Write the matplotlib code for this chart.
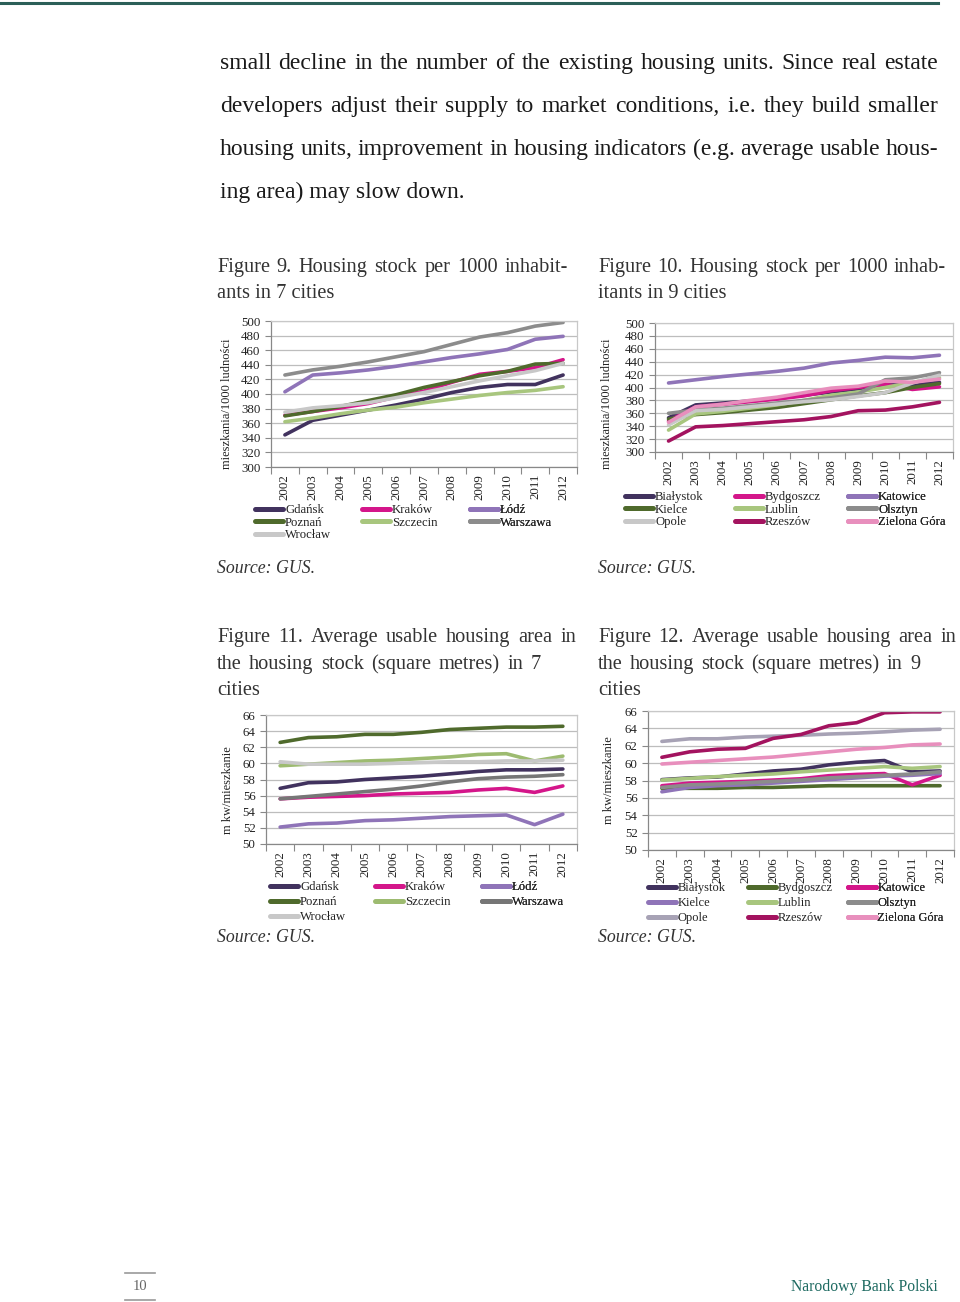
import matplotlib
matplotlib.use('Agg')
import matplotlib.pyplot as plt
from matplotlib.lines import Line2D
import numpy as np

W, H = 960, 1302
fig = plt.figure(figsize=(W / 100, H / 100), dpi=100)
fig.patch.set_facecolor('white')
SERIF = ['Liberation Serif', 'DejaVu Serif']
plt.rcParams['font.family'] = SERIF

years = [str(y) for y in range(2002, 2013)]

# ---------------- Figure 9: housing stock per 1000 inhabitants, 7 cities
cities_9 = ['Gdańsk', 'Kraków', 'Łódź', 'Poznań', 'Szczecin', 'Warszawa', 'Wrocław']
gdansk_9 = [344, 364, 371, 378, 385, 393, 402, 409, 413, 413, 426]
krakow_9 = [371, 376, 381, 387, 396, 404, 416, 427, 431, 436, 447]
lodz_9 = [403, 426, 429, 433, 438, 444, 450, 455, 461, 475, 479]
poznan_9 = [370, 376, 383, 391, 399, 409, 417, 425, 431, 441, 442]
szczecin_9 = [362, 367, 373, 378, 382, 388, 393, 398, 402, 405, 410]
warszawa_9 = [426, 433, 438, 444, 451, 458, 468, 478, 484, 493, 498]
wroclaw_9 = [375, 381, 384, 388, 395, 402, 410, 418, 425, 432, 442]

# ---------------- Figure 10: housing stock per 1000 inhabitants, 9 cities
cities_10 = ['Białystok', 'Bydgoszcz', 'Katowice', 'Kielce', 'Lublin', 'Olsztyn',
             'Opole', 'Rzeszów', 'Zielona Góra']
bialystok_10 = [353, 373, 376, 379, 383, 388, 393, 398, 405, 404, 408]
bydgoszcz_10 = [348, 370, 374, 378, 382, 387, 395, 400, 405, 397, 401]
katowice_10 = [407, 412, 417, 421, 425, 430, 438, 442, 447, 446, 450]
kielce_10 = [351, 358, 361, 365, 369, 375, 381, 387, 392, 400, 406]
lublin_10 = [334, 359, 363, 368, 373, 380, 388, 393, 400, 408, 415]
olsztyn_10 = [360, 365, 368, 372, 376, 380, 384, 390, 412, 415, 423]
opole_10 = [342, 364, 366, 370, 374, 378, 381, 386, 392, 407, 419]
rzeszow_10 = [317, 339, 341, 344, 347, 350, 355, 364, 365, 370, 377]
zielona_10 = [346, 370, 374, 380, 385, 392, 399, 402, 410, 408, 413]

# ---------------- Figure 11: average usable area (m2), 7 cities
gdansk_11 = [56.9, 57.6, 57.7, 58.0, 58.2, 58.4, 58.7, 59.0, 59.2, 59.2, 59.3]
krakow_11 = [55.6, 55.8, 55.9, 56.0, 56.2, 56.3, 56.4, 56.7, 56.9, 56.4, 57.2]
lodz_11 = [52.1, 52.5, 52.6, 52.9, 53.0, 53.2, 53.4, 53.5, 53.6, 52.4, 53.7]
poznan_11 = [62.6, 63.2, 63.3, 63.6, 63.6, 63.85, 64.2, 64.35, 64.5, 64.5, 64.6]
szczecin_11 = [59.7, 59.9, 60.1, 60.3, 60.4, 60.6, 60.8, 61.1, 61.2, 60.3, 60.9]
warszawa_11 = [55.6, 55.9, 56.2, 56.5, 56.8, 57.2, 57.7, 58.1, 58.3, 58.4, 58.6]
wroclaw_11 = [60.2, 59.9, 59.9, 59.9, 60.0, 60.1, 60.2, 60.2, 60.3, 60.3, 60.4]

# ---------------- Figure 12: average usable area (m2), 9 cities
bialystok_12 = [58.1, 58.3, 58.4, 58.75, 59.1, 59.3, 59.8, 60.1, 60.3, 59.0, 59.1]
bydgoszcz_12 = [57.1, 57.1, 57.1, 57.2, 57.2, 57.3, 57.4, 57.4, 57.4, 57.4, 57.4]
katowice_12 = [57.4, 57.7, 57.8, 57.9, 58.05, 58.2, 58.55, 58.7, 58.8, 57.5, 58.6]
kielce_12 = [56.7, 57.2, 57.4, 57.5, 57.7, 57.9, 58.1, 58.3, 58.5, 58.6, 58.8]
lublin_12 = [58.05, 58.25, 58.45, 58.6, 58.75, 59.0, 59.2, 59.4, 59.6, 59.4, 59.6]
olsztyn_12 = [57.2, 57.5, 57.6, 57.75, 57.9, 58.05, 58.3, 58.45, 58.6, 58.75, 59.0]
opole_12 = [62.5, 62.8, 62.8, 63.0, 63.1, 63.2, 63.35, 63.45, 63.6, 63.8, 63.9]
rzeszow_12 = [60.67, 61.3, 61.6, 61.7, 62.85, 63.3, 64.3, 64.65, 65.8, 65.9, 65.9]
zielona_12 = [59.9, 60.1, 60.3, 60.5, 60.7, 61.0, 61.3, 61.6, 61.8, 62.1, 62.2]

# colours
DPURPLE = '#41325e'
MAGENTA = '#d4168a'
LAVENDER = '#8f74b8'
DGREEN = '#4f6a2c'
LGREEN = '#a8c67e'
GRAY = '#8c8c8c'
LGRAY = '#c8c8c8'
DMAGENTA = '#a3135f'
PINK = '#e88fbd'
TXT = '#222222'


def fx(x):
    return x / W


def fy(y):
    return 1 - y / H


renderer = fig.canvas.get_renderer()


def justify(line, x0, x1, yb, **kw):
    words = line.split(' ')
    texts = [fig.text(0, 0, w, ha='left', va='baseline', **kw) for w in words]
    widths = [t.get_window_extent(renderer).width for t in texts]
    gap = (x1 - x0 - sum(widths)) / (len(words) - 1)
    x = x0
    for t, w in zip(texts, widths):
        t.set_position((fx(x), fy(yb)))
        x += w + gap


def plain(line, x0, yb, **kw):
    fig.text(fx(x0), fy(yb), line, ha='left', va='baseline', **kw)


def make_chart(box, ylim, yticks, series, colors, names, ylabel, ylab_xy,
               leg_xs, leg_top, leg_fs, leg_ls, tick_fs):
    l, t, r, b = box
    ax = fig.add_axes([fx(l), fy(b), (r - l) / W, (b - t) / H])
    x = np.arange(len(years))
    for vals, c in zip(series, colors):
        ax.plot(x, vals, color=c, lw=2.6, solid_capstyle='round', solid_joinstyle='round')
    ax.set_xlim(-0.5, len(years) - 0.5)
    ax.set_ylim(*ylim)
    ax.set_yticks(yticks)
    ax.set_yticklabels([str(v) for v in yticks], fontsize=tick_fs, color=TXT)
    ax.yaxis.grid(True, color='#bdbdbd', lw=0.9)
    ax.set_axisbelow(True)
    ax.set_xticks(np.arange(-0.5, len(years), 1.0))
    ax.set_xticklabels([])
    ax.set_xticks(x, minor=True)
    ax.set_xticklabels(years, minor=True, rotation=90, fontsize=tick_fs, color=TXT)
    ax.tick_params(axis='x', which='major', length=5, color='#888888', direction='out')
    ax.tick_params(axis='x', which='minor', length=0, pad=5)
    ax.tick_params(axis='y', length=4, color='#888888', pad=3.5)
    for s in ['left', 'bottom']:
        ax.spines[s].set_color('#888888')
        ax.spines[s].set_linewidth(0.9)
    for s in ['right', 'top']:
        ax.spines[s].set_color('#c8c8c8')
        ax.spines[s].set_linewidth(0.9)
    fig.text(fx(ylab_xy[0]), fy(ylab_xy[1]), ylabel, rotation=90, ha='center', va='center',
             fontsize=9.0, color=TXT)
    # legend, three columns filled row-wise
    handles = [Line2D([], [], color=c, lw=3.6, solid_capstyle='round') for c in colors]
    ncol = 3
    for j, lx in enumerate(leg_xs):
        idx = list(range(j, len(names), ncol))
        leg = ax.legend([handles[i] for i in idx], [names[i] for i in idx],
                        loc='upper left', bbox_to_anchor=(fx(lx), fy(leg_top)),
                        bbox_transform=fig.transFigure, frameon=False, fontsize=leg_fs,
                        handlelength=2.2, handletextpad=0.15, labelspacing=leg_ls,
                        borderpad=0, borderaxespad=0)
        for tx in leg.get_texts():
            tx.set_color(TXT)
        ax.add_artist(leg)
    return ax


# Chart 9
make_chart((271, 321, 577, 467), (300, 500), list(range(300, 501, 20)),
           [gdansk_9, krakow_9, lodz_9, poznan_9, szczecin_9, warszawa_9, wroclaw_9],
           [DPURPLE, MAGENTA, LAVENDER, DGREEN, LGREEN, GRAY, LGRAY],
           cities_9, 'mieszkania/1000 ludności', (227, 404),
           [255, 362, 470], 504, 9.2, 0.05, 9.3)

# Chart 10
make_chart((655, 323, 953, 452), (300, 500), list(range(300, 501, 20)),
           [bialystok_10, bydgoszcz_10, katowice_10, kielce_10, lublin_10, olsztyn_10,
            opole_10, rzeszow_10, zielona_10],
           [DPURPLE, MAGENTA, LAVENDER, DGREEN, LGREEN, GRAY, LGRAY, DMAGENTA, PINK],
           cities_10, 'mieszkania/1000 ludności', (607, 404),
           [625, 735, 848], 491, 9.2, 0.05, 9.3)

# Chart 11
make_chart((266, 715, 577, 844), (50, 66), list(range(50, 67, 2)),
           [gdansk_11, krakow_11, lodz_11, poznan_11, szczecin_11, warszawa_11, wroclaw_11],
           [DPURPLE, MAGENTA, LAVENDER, DGREEN, '#9dbb70', '#767676', LGRAY],
           cities_9, 'm kw/mieszkanie', (228, 790),
           [270, 375, 482], 881, 9.2, 0.25, 9.3)

# Chart 12
make_chart((648, 711, 954, 850), (50, 66), list(range(50, 67, 2)),
           [bialystok_12, bydgoszcz_12, katowice_12, kielce_12, lublin_12, olsztyn_12,
            opole_12, rzeszow_12, zielona_12],
           [DPURPLE, DGREEN, MAGENTA, LAVENDER, LGREEN, GRAY, '#a7a2b5', DMAGENTA, PINK],
           cities_10, 'm kw/mieszkanie', (609, 780),
           [648, 748, 848], 882, 9.0, 0.24, 9.3)

# ---------------- page text
body = dict(fontsize=17, color='#1a1a1a')
justify('small decline in the number of the existing housing units. Since real estate', 220, 938, 69, **body)
justify('developers adjust their supply to market conditions, i.e. they build smaller', 220, 938, 112, **body)
justify('housing units, improvement in housing indicators (e.g. average usable hous-', 220, 938, 155, **body)
plain('ing area) may slow down.', 220, 198, **body)

tit = dict(fontsize=14.7, color='#333333')
justify('Figure 9. Housing stock per 1000 inhabit-', 217, 568, 272, **tit)
plain('ants in 7 cities', 217, 298, **tit)
justify('Figure 10. Housing stock per 1000 inhab-', 598, 946, 272, **tit)
plain('itants in 9 cities', 598, 298, **tit)

justify('Figure 11. Average usable housing area in', 217, 576, 642, **tit)
justify('the housing stock (square metres) in 7', 217, 541, 669, **tit)
plain('cities', 217, 695, **tit)
justify('Figure 12. Average usable housing area in', 598, 956, 642, **tit)
justify('the housing stock (square metres) in 9', 598, 920, 669, **tit)
plain('cities', 598, 695, **tit)

src = dict(fontsize=12.8, color='#333333', style='italic')
plain('Source: GUS.', 217, 573, **src)
plain('Source: GUS.', 598, 573, **src)
plain('Source: GUS.', 217, 942, **src)
plain('Source: GUS.', 598, 942, **src)

# top rule
fig.add_artist(Line2D([0, fx(938)], [fy(3), fy(3)], transform=fig.transFigure,
                      color='#2b5f58', lw=2.2))
# footer
for yy in (1273, 1300):
    fig.add_artist(Line2D([fx(125), fx(155)], [fy(yy), fy(yy)], transform=fig.transFigure,
                          color='#999999', lw=1.2))
fig.text(fx(140), fy(1287), '10', ha='center', va='center', fontsize=10.5, color='#666666')
fig.text(fx(938), fy(1287), 'Narodowy Bank Polski', ha='right', va='center', fontsize=11.3,
         color='#1f6b62')

fig.savefig('out.png', dpi=100, facecolor='white')
